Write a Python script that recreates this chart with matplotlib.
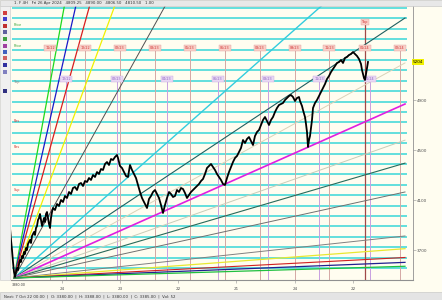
import matplotlib
matplotlib.use("Agg")
import matplotlib.pyplot as plt
from matplotlib.patches import Rectangle

# ----- price path (bar index, price) -----
bars = [1, 2, 3, 4, 5, 6, 7, 8, 9, 10, 11, 12, 13, 14, 15, 16, 17, 18, 19, 20,
        22, 23, 24, 26, 27, 28, 29, 30, 31, 32, 33, 34, 35, 36, 37, 38, 39, 40, 41, 42, 43, 44,
        45, 47, 49, 51, 53, 55, 57, 59, 61, 63, 65, 67, 69, 71, 73, 75, 77, 79, 81, 83,
        85, 87, 89, 91, 93, 95, 97, 99, 101, 103, 105, 107, 109, 110,
        112, 114, 116, 118, 120, 122, 124, 126, 128, 130, 132, 134, 136, 138, 139, 141,
        143, 145, 147, 149, 151, 153, 155, 157,
        159, 161, 163, 165, 167, 169, 171, 173, 175, 177, 179, 181, 183, 185, 187, 189,
        191, 193, 195, 197, 199, 201, 203, 205, 207, 209, 211, 213, 215, 217, 219, 221, 223, 225,
        227, 229, 231, 233, 235, 237, 239, 241, 243, 245, 247, 249, 251, 253, 255, 257,
        259, 261, 263, 265, 267, 269, 271, 273, 275, 277, 279, 281, 283, 285, 287, 289, 291,
        292, 294, 295, 297, 298, 299, 300, 301, 302, 303, 304, 305, 307, 309, 311, 313,
        315, 317, 319, 321, 323, 325, 327, 329, 331, 333, 335, 337, 339, 341, 343, 345,
        347, 349, 351, 353, 354, 355, 356, 357, 358, 359, 360]
close = [3924, 3876, 3780, 3700, 3604, 3524, 3484, 3524, 3556, 3540, 3588, 3620, 3604, 3652, 3636, 3684, 3668, 3716, 3700, 3748,
         3780, 3756, 3812, 3844, 3820, 3876, 3892, 3940, 3956, 3988, 3940, 3892, 3924, 3956, 3924, 3988, 4004, 3956, 3908, 3876, 3956, 4004,
         4036, 4020, 4068, 4052, 4100, 4084, 4132, 4116, 4164, 4148, 4196, 4204, 4180, 4228, 4236, 4212,
         4252, 4244, 4276, 4260, 4300, 4284, 4324, 4308, 4348, 4340, 4388, 4404, 4380, 4428, 4420, 4444, 4460, 4436,
         4372, 4356, 4324, 4292, 4284, 4380, 4340, 4308, 4276, 4220, 4164, 4116, 4084, 4052, 4036, 4108,
         4132, 4164, 4180, 4148, 4116, 4060, 3996, 4060,
         4116, 4164, 4148, 4124, 4132, 4180, 4164, 4196, 4188, 4156, 4116, 4140, 4164, 4180, 4196, 4212,
         4228, 4252, 4268, 4308, 4356, 4372, 4388, 4364, 4340, 4308, 4284, 4260, 4228, 4220, 4276, 4324, 4364, 4404,
         4436, 4452, 4484, 4516, 4580, 4556, 4588, 4604, 4572, 4540, 4612, 4644, 4660, 4700, 4740, 4764,
         4732, 4700, 4740, 4764, 4804, 4836, 4860, 4868, 4876, 4900, 4916, 4932, 4940, 4924, 4892, 4916, 4924,
         4892, 4852, 4820, 4764, 4708, 4644, 4524, 4580, 4612, 4676, 4740, 4836, 4876, 4900, 4932, 4964,
         4996, 5028, 5068, 5092, 5124, 5148, 5172, 5196, 5204, 5220, 5196, 5236, 5244, 5260, 5268, 5284,
         5268, 5252, 5228, 5188, 5140, 5108, 5076, 5060, 5108, 5156, 5204]

# ----- gann fan from the low -----
fan_origin_bar = 6
fan_origin_price = 3476
fan_slopes = [43.2, 35.2, 28.8, 21.6, 14.4, 7.08, 5.32, 4.4, 3.56, 2.82, 2.35, 1.76,
              0.86, 0.6, 0.42, 0.32, 0.24]
fan_colors = ["#1ed81e", "#1a1ac8", "#d81e1e", "#f0f000", "#505050", "#33ccdd", "#1f5f5f",
              "#d9d2b8", "#e01ee0", "#c8ccb8", "#2a6a5a", "#707070",
              "#808080", "#e8e830", "#d02020", "#202090", "#20c040"]
fan_widths = [0.9, 0.9, 0.9, 0.9, 0.7, 1.0, 0.8, 0.7, 1.2, 0.7, 0.8, 0.7,
              0.7, 0.9, 0.8, 0.9, 0.9]
fan_end_bar = 397

# ----- horizontal levels -----
levels = [5636, 5553, 5470, 5386, 5303, 5220, 5137, 5054, 4970, 4887, 4804, 4721, 4638,
          4554, 4471, 4388, 4305, 4222, 4138, 4055, 3972, 3889, 3806, 3722, 3639, 3556]
level_tags = {5470: ("Price", "#30a030"), 5303: ("Price", "#30a030"), 5020: ("Top", "#808080"),
              4700: ("Res", "#d03030"), 4500: ("Res", "#d03030"), 4150: ("Sup", "#d03030")}

# ----- time cycle verticals -----
cycle_a_bars = [42, 77, 112, 147, 182, 217, 252, 287, 321, 357, 392]
cycle_a_labels = ["11/22", "12/22", "02/23", "03/23", "05/23", "06/23", "08/23",
                  "09/23", "11/23", "01/24", "02/24"]
cycle_b_bars = [58, 109, 159, 210, 260, 311, 362]
cycle_b_labels = ["12/22", "02/23", "04/23", "06/23", "08/23", "11/23", "01/24"]
top_bar = 357

date_ticks = [54, 112, 170, 228, 287, 345]
date_labels = ["24", "23", "22", "21", "24", "22"]
price_ticks = [4900, 4500, 4100, 3700]

W, H = 442, 300
fig = plt.figure(figsize=(W / 100, H / 100), dpi=100)
fig.patch.set_facecolor("#fffdf0")

ax = fig.add_axes([11 / W, 20 / H, 402 / W, 274 / H])
ax.set_facecolor("#fffdf0")
ax.set_xlim(3, 405)
ax.set_ylim(3460, 5652)

ax.hlines(levels, 4, 399, color="#48dada", lw=1.2, zorder=1)
for lv, (t, c) in level_tags.items():
    ax.text(6, lv + 12, t, fontsize=2.4, color=c, ha="left", va="bottom", zorder=4)

ax.vlines(cycle_a_bars, 3460, 5316, color="#d4a8a4", lw=0.7, zorder=2)
ax.vlines(cycle_b_bars, 3460, 5068, color="#c8a0e0", lw=0.7, zorder=2)
ax.vlines([top_bar], 3460, 5524, color="#a04848", lw=0.9, zorder=2)
for b, t in zip(cycle_a_bars, cycle_a_labels):
    ax.text(b, 5316, t, fontsize=2.4, color="#d03030", ha="center", va="center", zorder=4,
            bbox=dict(boxstyle="square,pad=0.3", fc="#f8d0c8", ec="#e0a0a0", lw=0.3))
for b, t in zip(cycle_b_bars, cycle_b_labels):
    ax.text(b, 5068, t, fontsize=2.4, color="#9060c0", ha="center", va="center", zorder=4,
            bbox=dict(boxstyle="square,pad=0.3", fc="#e8d8f4", ec="#c8a8e0", lw=0.3))
ax.text(top_bar, 5524, "Top", fontsize=2.4, color="#d03030", ha="center", va="center", zorder=4,
        bbox=dict(boxstyle="square,pad=0.3", fc="#f8d0c8", ec="#e0a0a0", lw=0.3))

for s, c, w in zip(fan_slopes, fan_colors, fan_widths):
    ax.plot([fan_origin_bar, fan_end_bar],
            [fan_origin_price, fan_origin_price + s * (fan_end_bar - fan_origin_bar)],
            color=c, lw=w, zorder=3)

ax.plot(bars, close, color="black", lw=1.3, zorder=5)
ax.text(4, fan_origin_price - 40, "3380.00", fontsize=2.4, color="#404040", ha="left", va="top", zorder=4)

for sp in ["top", "left", "right"]:
    ax.spines[sp].set_visible(False)
ax.spines["bottom"].set_color("#909090")
ax.spines["bottom"].set_linewidth(0.8)
ax.set_xticks(date_ticks)
ax.set_xticklabels(date_labels, fontsize=3, color="#505050")
ax.tick_params(axis="x", length=2, width=0.4, color="#909090", pad=3)
ax.set_yticks([])

# right price scale
rax = ax.twinx()
rax.set_ylim(3460, 5652)
rax.set_yticks(price_ticks)
rax.set_yticklabels([str(p) for p in price_ticks], fontsize=3, color="#505050")
rax.tick_params(axis="y", length=2, width=0.4, color="#909090", pad=1)
for sp in ["top", "left", "bottom"]:
    rax.spines[sp].set_visible(False)
rax.spines["right"].set_color("#909090")
rax.spines["right"].set_linewidth(0.6)
rax.text(1.0, (5204 - 3460) / (5652 - 3460), "5204", transform=rax.transAxes, fontsize=3,
         ha="left", va="center", bbox=dict(boxstyle="square,pad=0.2", fc="#f0f000", ec="none"))

# header, toolbar, status bar
fig.add_artist(Rectangle((0, 294 / H), 1, 6 / H, transform=fig.transFigure, fc="#e8e8e8", ec="#c0c0c0", lw=0.4))
fig.text(14 / W, 297 / H, "1. F 4H   Fri 26 Apr 2024   4809.25   4890.00   4806.50   4810.50   1.00",
         fontsize=2.8, color="#303030", va="center")
fig.add_artist(Rectangle((0, 20 / H), 10 / W, 274 / H, transform=fig.transFigure, fc="#f0f0f0", ec="#c8c8c8", lw=0.4))
for yy, cc in zip([285, 279, 272, 266, 259, 252, 246, 240, 233, 226, 207],
                  ["#d04040", "#4040d0", "#c03030", "#6060a0", "#40a040", "#a040a0",
                   "#4060c0", "#d06060", "#3030a0", "#8080c0", "#303080"]):
    fig.add_artist(Rectangle((3 / W, yy / H), 4 / W, 4 / H, transform=fig.transFigure, fc=cc, ec="none"))
fig.add_artist(Rectangle((0, 0), 1, 8 / H, transform=fig.transFigure, fc="#e4e4e4", ec="#c0c0c0", lw=0.4))
fig.text(4 / W, 4 / H, "Next: 7 Oct 22 00:00  |  O: 3380.00  |  H: 3388.00  |  L: 3380.00  |  C: 3385.00  |  Vol: 52",
         fontsize=2.8, color="#303030", va="center")

fig.savefig("out.png", dpi=100)
